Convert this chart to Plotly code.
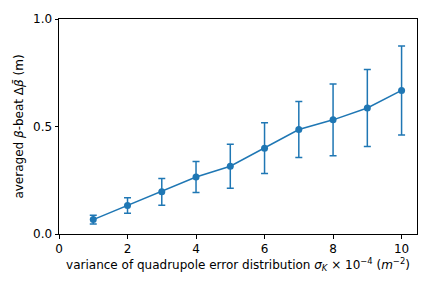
import plotly.graph_objects as go

x_vals = [1, 2, 3, 4, 5, 6, 7, 8, 9, 10]
y_vals = [0.067, 0.133, 0.196, 0.265, 0.315, 0.399, 0.486, 0.531, 0.586, 0.668]
y_err = [0.020, 0.036, 0.062, 0.072, 0.102, 0.118, 0.130, 0.167, 0.179, 0.207]
x_ticks = [0, 2, 4, 6, 8, 10]
y_ticks = [0.0, 0.5, 1.0]
y_tick_labels = ["0.0", "0.5", "1.0"]

color = "#1f77b4"
fs = 12

fig = go.Figure()
fig.add_trace(go.Scatter(
    x=x_vals, y=y_vals,
    mode="lines+markers",
    line=dict(color=color, width=1.5),
    marker=dict(color=color, size=7),
    error_y=dict(type="data", array=y_err, visible=True, color=color,
                 thickness=1.5, width=3.5),
    showlegend=False,
))

axis_common = dict(
    showline=True, linecolor="black", linewidth=1, mirror=True,
    ticks="outside", ticklen=3.5, tickwidth=1, tickcolor="black",
    showgrid=False, zeroline=False,
    tickfont=dict(family="DejaVu Sans", size=fs, color="black"),
)

fig.update_xaxes(range=[0, 10.45], tickvals=x_ticks, **axis_common,
                 title=dict(text="variance of quadrupole error distribution <i>σ</i><sub><i>K</i></sub> × 10<sup>−4</sup> (<i>m</i><sup>−2</sup>)",
                            font=dict(family="DejaVu Sans", size=fs, color="black"), standoff=4))
fig.update_yaxes(range=[0, 1.0], tickvals=y_ticks, ticktext=y_tick_labels, **axis_common,
                 title=dict(text="averaged <i>β</i>-beat Δ<i>β̄</i> (m)",
                            font=dict(family="DejaVu Sans", size=fs, color="black"), standoff=6))

fig.update_layout(
    width=432, height=288,
    margin=dict(l=59, r=15, t=16, b=54),
    paper_bgcolor="white", plot_bgcolor="white",
    font=dict(family="DejaVu Sans", size=fs, color="black"),
)

fig.write_html("out.html", config={"displayModeBar": False},
               post_script="document.body.style.margin='0';")
